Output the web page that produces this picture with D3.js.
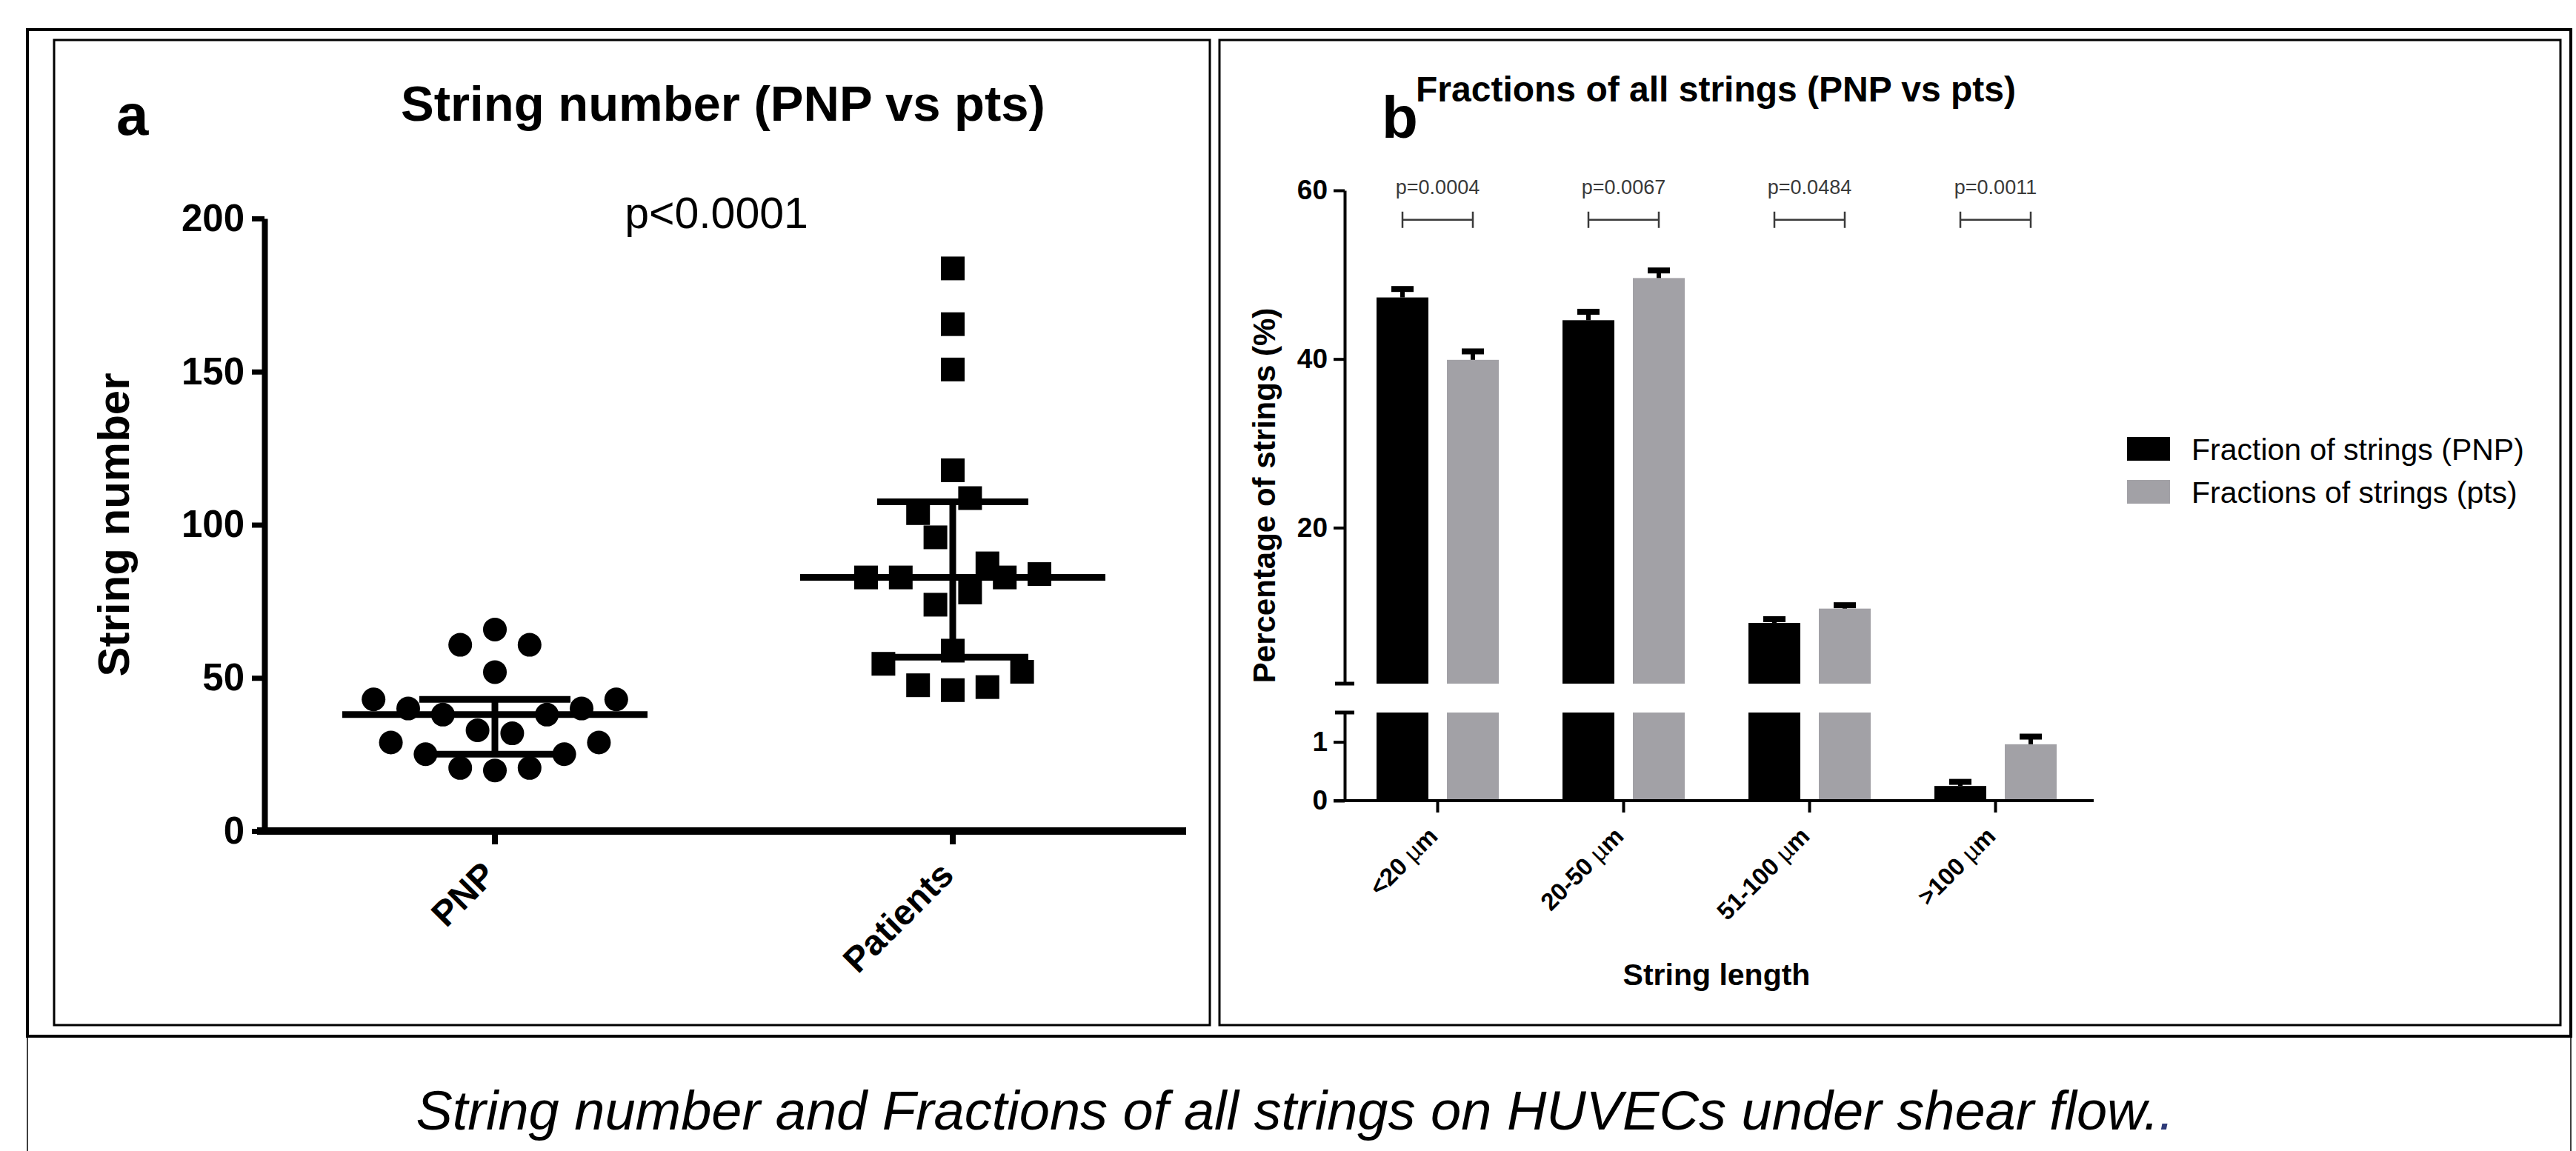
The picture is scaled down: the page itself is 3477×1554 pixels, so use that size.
<!DOCTYPE html>
<html>
<head>
<meta charset="utf-8">
<script src="https://cdn.jsdelivr.net/npm/d3@7"></script>
<style>
  body { margin: 0; background: #fff; }
  svg { display: block; }
</style>
</head>
<body>
<script>
// ---- panel a : string number per subject (scatter dot plot) ----
const groupsA = ["PNP", "Patients"];
const pnpCounts = [65.8, 60.8, 60.8, 51.9, 43.0, 43.0, 40.0, 40.0, 38.0, 38.0, 32.9, 31.9, 28.9, 28.9, 25.1, 25.1, 20.6, 19.8, 20.6];
const pnpCols   = [0, -2, 2, 0, -7, 7, -5, 5, -3, 3, -1, 1, -6, 6, -4, 4, -2, 0, 2];
const ptsCounts = [183.7, 165.5, 150.7, 117.8, 108.7, 103.8, 95.9, 87.4, 82.8, 82.8, 82.8, 83.9, 77.9, 73.9, 58.9, 54.6, 52.0, 47.6, 46.0, 47.0];
const ptsCols   = [0, 0, 0, 0, 1, -2, -1, 2, -5, -3, 3, 5, 1, -1, 0, -4, 4, -2, 0, 2];
// low quartile, median, high quartile
const pnpSummary = [25.1, 38.0, 43.0];
const ptsSummary = [56.8, 82.8, 107.5];
const ticksA = [0, 50, 100, 150, 200];

// ---- panel b : fractions of strings by length ----
const lengths = ["<20", "20-50", "51-100", ">100"];
const pnpFrac = [47.3, 44.6, 8.7, 0.25];
const pnpErr  = [1.0, 1.0, 0.45, 0.07];
const ptsFrac = [39.9, 49.6, 10.4, 0.96];
const ptsErr  = [1.0, 0.9, 0.4, 0.13];
const pTexts  = ["p=0.0004", "p=0.0067", "p=0.0484", "p=0.0011"];
const ticksUpper = [20, 40, 60];
const ticksLower = [0, 1];
const seriesB = ["Fraction of strings (PNP)", "Fractions of strings (pts)"];

const W = 3477, H = 1554;
const FONT = '"Liberation Sans", Arial, Helvetica, sans-serif';
const GREY = "#a2a1a6";
const DARK = "#3a3a3a";

const svg = d3.select("body").append("svg")
  .attr("width", W)
  .attr("height", H)
  .attr("font-family", FONT);

svg.append("rect").attr("width", W).attr("height", H).attr("fill", "#fff");

// frames (table-like layout)
svg.append("rect")
  .attr("x", 37).attr("y", 40).attr("width", 3433).attr("height", 1359)
  .attr("fill", "none").attr("stroke", "#000").attr("stroke-width", 4);
svg.append("rect")
  .attr("x", 73).attr("y", 54).attr("width", 1560).attr("height", 1330)
  .attr("fill", "none").attr("stroke", "#000").attr("stroke-width", 3);
svg.append("rect")
  .attr("x", 1646).attr("y", 54).attr("width", 1810).attr("height", 1330)
  .attr("fill", "none").attr("stroke", "#000").attr("stroke-width", 3);
[37, 3470].forEach(x => {
  svg.append("line")
    .attr("x1", x).attr("x2", x).attr("y1", 1399).attr("y2", H)
    .attr("stroke", "#000").attr("stroke-width", 1.5);
});

// ================= panel a =================
const gA = svg.append("g");
const xA = d3.scaleBand().domain(groupsA).range([359, 1595]);
const yA = d3.scaleLinear().domain([0, 200]).range([1122, 295]);
const jitter = d3.scaleLinear().domain([-1, 1]).range([-23.4, 23.4]);
const centerA = g => xA(g) + xA.bandwidth() / 2;

const yAxisA = gA.append("g")
  .attr("transform", "translate(357,0)")
  .call(d3.axisLeft(yA).tickValues(ticksA).tickSize(17).tickPadding(10).tickSizeOuter(0));
yAxisA.attr("font-family", FONT).attr("font-size", 51).attr("font-weight", "bold");
yAxisA.select(".domain").attr("stroke-width", 8);
yAxisA.selectAll(".tick line").attr("stroke-width", 7);
yAxisA.selectAll(".tick text").attr("fill", "#000");

gA.append("line")
  .attr("x1", 347).attr("x2", 1601)
  .attr("y1", yA(0)).attr("y2", yA(0))
  .attr("stroke", "#000").attr("stroke-width", 10);

const xAxisA = gA.append("g")
  .attr("transform", `translate(0,${yA(0)})`)
  .call(d3.axisBottom(xA).tickSize(18).tickSizeOuter(0));
xAxisA.select(".domain").remove();
xAxisA.attr("font-family", FONT).attr("font-size", 48).attr("font-weight", "bold");
xAxisA.selectAll(".tick line").attr("stroke-width", 8);
xAxisA.selectAll(".tick text")
  .attr("fill", "#000")
  .attr("text-anchor", "end")
  .attr("x", 0).attr("y", 0).attr("dy", 0)
  .attr("transform", "translate(4,62) rotate(-45)");

// PNP circles
gA.append("g").selectAll("circle")
  .data(pnpCounts.map((v, i) => ({ v, c: pnpCols[i] })))
  .enter().append("circle")
  .attr("cx", d => centerA("PNP") + jitter(d.c))
  .attr("cy", d => yA(d.v))
  .attr("r", 16)
  .attr("fill", "#000");

// patient squares
gA.append("g").selectAll("rect")
  .data(ptsCounts.map((v, i) => ({ v, c: ptsCols[i] })))
  .enter().append("rect")
  .attr("x", d => centerA("Patients") + jitter(d.c) - 16)
  .attr("y", d => yA(d.v) - 16)
  .attr("width", 32).attr("height", 32)
  .attr("fill", "#000");

// median and interquartile range
[["PNP", pnpSummary], ["Patients", ptsSummary]].forEach(([g, s]) => {
  const x = centerA(g);
  const sg = gA.append("g").attr("stroke", "#000").attr("stroke-width", 9);
  sg.append("line").attr("x1", x).attr("x2", x).attr("y1", yA(s[0])).attr("y2", yA(s[2]));
  sg.append("line").attr("x1", x - 206).attr("x2", x + 206).attr("y1", yA(s[1])).attr("y2", yA(s[1]));
  [s[0], s[2]].forEach(v => {
    sg.append("line").attr("x1", x - 102).attr("x2", x + 102).attr("y1", yA(v)).attr("y2", yA(v));
  });
});

gA.append("text")
  .attr("x", 157).attr("y", 182)
  .attr("font-size", 78).attr("font-weight", "bold")
  .text("a");
gA.append("text")
  .attr("x", 976).attr("y", 163)
  .attr("text-anchor", "middle")
  .attr("font-size", 67).attr("font-weight", "bold")
  .text("String number (PNP vs pts)");
gA.append("text")
  .attr("x", 967).attr("y", 308)
  .attr("text-anchor", "middle")
  .attr("font-size", 59)
  .text("p<0.0001");
gA.append("text")
  .attr("transform", `translate(174,${(yA(0) + yA(200)) / 2}) rotate(-90)`)
  .attr("text-anchor", "middle")
  .attr("font-size", 60).attr("font-weight", "bold")
  .text("String number");

// ================= panel b =================
const gB = svg.append("g");
const xB = d3.scaleBand().domain(lengths).range([1815, 2819]);
const xInner = d3.scaleBand().domain([0, 1]).range([-82.5, 82.5]).paddingInner(0.263);
const yU = d3.scaleLinear().domain([1.5, 60]).range([923, 257]);
const yL = d3.scaleLinear().domain([0, 1.5]).range([1081, 962]);
const yAny = v => (v > 1.5 ? yU(v) : yL(v));
const centerB = c => xB(c) + xB.bandwidth() / 2;

const barData = [];
lengths.forEach((c, i) => {
  barData.push({ c, s: 0, v: pnpFrac[i], e: pnpErr[i] });
  barData.push({ c, s: 1, v: ptsFrac[i], e: ptsErr[i] });
});
const fillB = s => (s === 0 ? "#000" : GREY);
const barX = d => centerB(d.c) + xInner(d.s);

// lower segment
gB.append("g").selectAll("rect")
  .data(barData)
  .enter().append("rect")
  .attr("x", barX)
  .attr("y", d => yL(Math.min(d.v, 1.5)))
  .attr("width", xInner.bandwidth())
  .attr("height", d => yL(0) - yL(Math.min(d.v, 1.5)))
  .attr("fill", d => fillB(d.s));

// upper segment
gB.append("g").selectAll("rect")
  .data(barData.filter(d => d.v > 1.5))
  .enter().append("rect")
  .attr("x", barX)
  .attr("y", d => yU(d.v))
  .attr("width", xInner.bandwidth())
  .attr("height", d => yU(1.5) - yU(d.v))
  .attr("fill", d => fillB(d.s));

// error bars (upper only)
const errG = gB.append("g").selectAll("g")
  .data(barData)
  .enter().append("g");
errG.append("line")
  .attr("x1", d => barX(d) + xInner.bandwidth() / 2)
  .attr("x2", d => barX(d) + xInner.bandwidth() / 2)
  .attr("y1", d => yAny(d.v))
  .attr("y2", d => yAny(d.v + d.e))
  .attr("stroke", "#000").attr("stroke-width", 6);
errG.append("rect")
  .attr("x", d => barX(d) + xInner.bandwidth() / 2 - 15)
  .attr("y", d => yAny(d.v + d.e) - 4)
  .attr("width", 30).attr("height", 8)
  .attr("fill", "#000");

// broken y axis
const yAxisU = gB.append("g")
  .attr("transform", "translate(1815,0)")
  .call(d3.axisLeft(yU).tickValues(ticksUpper).tickFormat(d3.format("d"))
    .tickSize(15).tickPadding(8).tickSizeOuter(0));
const yAxisL = gB.append("g")
  .attr("transform", "translate(1815,0)")
  .call(d3.axisLeft(yL).tickValues(ticksLower).tickFormat(d3.format("d"))
    .tickSize(15).tickPadding(8).tickSizeOuter(0));
[yAxisU, yAxisL].forEach(ax => {
  ax.attr("font-family", FONT).attr("font-size", 37).attr("font-weight", "bold");
  ax.select(".domain").attr("stroke-width", 4);
  ax.selectAll(".tick line").attr("stroke-width", 4);
  ax.selectAll(".tick text").attr("fill", "#000");
});
[yU(1.5), yL(1.5)].forEach(y => {
  gB.append("line")
    .attr("x1", 1802).attr("x2", 1828).attr("y1", y).attr("y2", y)
    .attr("stroke", "#000").attr("stroke-width", 5);
});

gB.append("line")
  .attr("x1", 1800).attr("x2", 2826)
  .attr("y1", yL(0)).attr("y2", yL(0))
  .attr("stroke", "#000").attr("stroke-width", 4);

const xAxisB = gB.append("g")
  .attr("transform", `translate(0,${yL(0)})`)
  .call(d3.axisBottom(xB).tickSize(16).tickSizeOuter(0));
xAxisB.select(".domain").remove();
xAxisB.attr("font-family", FONT).attr("font-size", 33).attr("font-weight", "bold");
xAxisB.selectAll(".tick line").attr("stroke-width", 4);
xAxisB.selectAll(".tick text")
  .attr("fill", "#000")
  .attr("text-anchor", "end")
  .attr("x", 0).attr("y", 0).attr("dy", 0)
  .attr("transform", "translate(2,50) rotate(-45)")
  .each(function (d) {
    const t = d3.select(this);
    t.text(null);
    t.append("tspan").text(d + " ");
    t.append("tspan").attr("font-weight", "normal").text("\u00b5");
    t.append("tspan").text("m");
  });

// significance brackets
const sigG = gB.append("g").selectAll("g")
  .data(lengths)
  .enter().append("g");
sigG.append("text")
  .attr("x", d => centerB(d))
  .attr("y", yU(59.6))
  .attr("text-anchor", "middle")
  .attr("font-size", 27)
  .attr("fill", DARK)
  .text((d, i) => pTexts[i]);
sigG.append("path")
  .attr("d", d => {
    const x1 = centerB(d) + xInner(0) + xInner.bandwidth() / 2;
    const x2 = centerB(d) + xInner(1) + xInner.bandwidth() / 2;
    const y = yU(56.5);
    return `M${x1},${y - 11}V${y + 11}M${x1},${y}H${x2}M${x2},${y - 11}V${y + 11}`;
  })
  .attr("fill", "none")
  .attr("stroke", DARK)
  .attr("stroke-width", 2.5);

gB.append("text")
  .attr("x", 1865).attr("y", 186)
  .attr("font-size", 80).attr("font-weight", "bold")
  .text("b");
gB.append("text")
  .attr("x", 1911).attr("y", 137)
  .attr("font-size", 48).attr("font-weight", "bold")
  .text("Fractions of all strings (PNP vs pts)");
gB.append("text")
  .attr("transform", `translate(1721,${(yU(60) + yL(0)) / 2}) rotate(-90)`)
  .attr("text-anchor", "middle")
  .attr("font-size", 42).attr("font-weight", "bold")
  .text("Percentage of strings (%)");
gB.append("text")
  .attr("x", (xB.range()[0] + xB.range()[1]) / 2).attr("y", 1330)
  .attr("text-anchor", "middle")
  .attr("font-size", 41).attr("font-weight", "bold")
  .text("String length");

// legend
const leg = gB.append("g").selectAll("g")
  .data(seriesB)
  .enter().append("g")
  .attr("transform", (d, i) => `translate(2871,${590 + i * 58})`);
leg.append("rect")
  .attr("width", 58).attr("height", 32)
  .attr("fill", (d, i) => fillB(i));
leg.append("text")
  .attr("x", 87).attr("y", 31)
  .attr("font-size", 41)
  .text(d => d);

// caption
const cap = svg.append("text")
  .attr("x", 1748).attr("y", 1525)
  .attr("text-anchor", "middle")
  .attr("font-size", 74)
  .attr("font-style", "italic");
cap.append("tspan").text("String number and Fractions of all strings on HUVECs under shear flow.");
cap.append("tspan").attr("fill", "#2d3a78").text(".");
</script>
</body>
</html>
